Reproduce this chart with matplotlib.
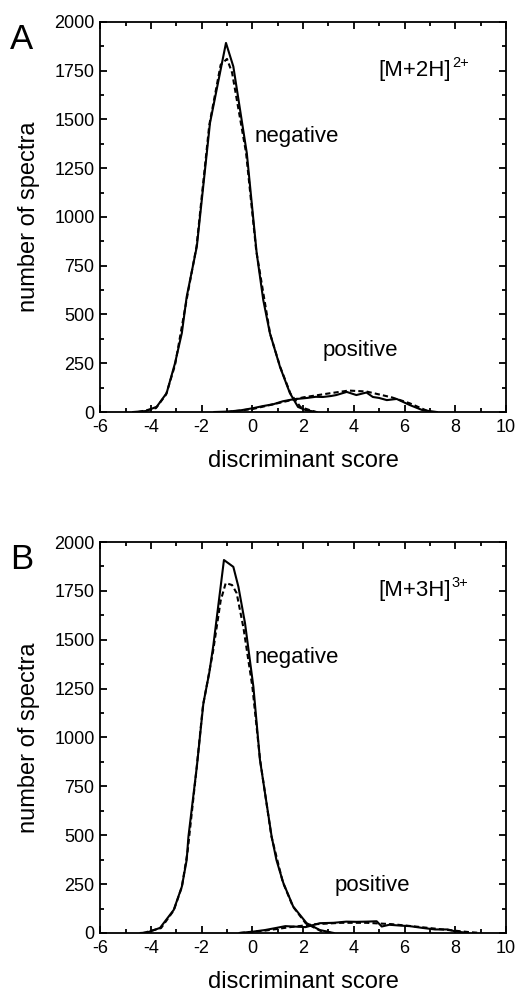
import matplotlib
matplotlib.use("Agg")
import matplotlib.pyplot as plt
from matplotlib.ticker import MultipleLocator

plt.rcParams['font.family'] = ['Liberation Sans', 'DejaVu Sans']
plt.rcParams['axes.unicode_minus'] = False

# panel A: [M+2H]2+
a_neg_x = [-4.7, -4.2, -3.77, -3.38, -3.05, -2.78, -2.59, -2.19, -1.67, -1.04, -0.75, -0.22, 0.17, 0.43, 0.69, 1.09, 1.48, 1.8, 2.1, 2.53]
a_neg_y = [0, 5, 27, 97, 250, 405, 590, 848, 1482, 1892, 1771, 1328, 815, 574, 405, 231, 97, 26, 10, 0]
a_negfit_x = [-4.5, -3.8, -3.4, -3.05, -2.6, -2.2, -1.7, -1.25, -1.0, -0.8, -0.25, 0.15, 0.7, 1.1, 1.5, 1.9, 2.5]
a_negfit_y = [0, 20, 90, 240, 570, 850, 1470, 1780, 1810, 1740, 1330, 830, 400, 230, 95, 25, 0]
a_pos_x = [-1.5, -1.0, -0.49, 0.04, 0.4, 0.83, 1.2, 1.6, 2.15, 2.5, 2.78, 3.1, 3.31, 3.72, 4.1, 4.5, 4.75, 5.0, 5.3, 5.69, 6.2, 6.7, 7.27]
a_pos_y = [0, 2, 8, 20, 30, 40, 55, 65, 72, 78, 77, 82, 87, 103, 87, 100, 77, 72, 61, 67, 36, 10, 0]
a_posfit_x = [-1.0, 0.0, 1.0, 2.0, 3.0, 3.8, 4.5, 5.5, 6.2, 7.0]
a_posfit_y = [0, 15, 45, 75, 95, 110, 105, 75, 45, 0]

# panel B: [M+3H]3+
b_neg_x = [-4.4, -4.16, -3.64, -3.1, -2.78, -2.59, -2.52, -2.19, -1.93, -1.7, -1.54, -1.12, -0.75, -0.55, -0.29, 0.04, 0.3, 0.76, 0.95, 1.22, 1.61, 2.14, 2.66, 3.2]
b_neg_y = [0, 2, 26, 118, 237, 373, 493, 850, 1176, 1330, 1470, 1908, 1873, 1771, 1585, 1260, 885, 493, 373, 256, 135, 50, 15, 0]
b_negfit_x = [-4.3, -3.6, -3.1, -2.78, -2.55, -2.2, -1.95, -1.55, -1.25, -1.05, -0.8, -0.62, -0.35, 0.0, 0.3, 0.75, 1.2, 1.6, 2.1, 2.7, 3.2]
b_negfit_y = [0, 25, 115, 235, 420, 840, 1160, 1440, 1700, 1790, 1780, 1739, 1560, 1260, 890, 495, 260, 135, 50, 10, 0]
b_pos_x = [-0.5, 0.04, 0.5, 0.95, 1.3, 1.6, 2.1, 2.66, 3.2, 3.7, 4.1, 4.5, 4.9, 5.1, 5.4, 5.8, 6.2, 6.7, 7.2, 7.7, 8.0, 8.5]
b_pos_y = [0, 7, 15, 26, 35, 33, 30, 50, 52, 58, 57, 58, 60, 33, 42, 38, 35, 26, 18, 18, 8, 0]
b_posfit_x = [-0.5, 0.5, 1.5, 2.5, 3.5, 4.5, 5.5, 6.5, 7.5, 8.5, 9.0]
b_posfit_y = [0, 12, 30, 45, 52, 52, 45, 32, 18, 5, 0]

panels = [
    ("A", "[M+2H]", "2+", (a_neg_x, a_neg_y), (a_negfit_x, a_negfit_y),
     (a_pos_x, a_pos_y), (a_posfit_x, a_posfit_y), (2.75, 313)),
    ("B", "[M+3H]", "3+", (b_neg_x, b_neg_y), (b_negfit_x, b_negfit_y),
     (b_pos_x, b_pos_y), (b_posfit_x, b_posfit_y), (3.25, 245)),
]

fig = plt.figure(figsize=(5.19, 9.94), dpi=100)
boxes = [[0.193, 0.5855, 0.782, 0.3925], [0.193, 0.0614, 0.782, 0.3933]]

for box, (letter, ion, charge, neg, negfit, pos, posfit, pos_xy) in zip(boxes, panels):
    ax = fig.add_axes(box)
    ax.plot(neg[0], neg[1], color="black", lw=1.5)
    ax.plot(negfit[0], negfit[1], color="black", lw=1.5, linestyle=(0, (2.5, 1.5)))
    ax.plot(pos[0], pos[1], color="black", lw=1.5)
    ax.plot(posfit[0], posfit[1], color="black", lw=1.5, linestyle=(0, (2.5, 1.5)))

    ax.set_xlim(-6, 10)
    ax.set_ylim(0, 2000)
    ax.xaxis.set_major_locator(MultipleLocator(2))
    ax.xaxis.set_minor_locator(MultipleLocator(1))
    ax.yaxis.set_major_locator(MultipleLocator(250))
    ax.yaxis.set_minor_locator(MultipleLocator(125))
    ax.tick_params(which="both", direction="in", top=True, right=True, width=1.3)
    ax.tick_params(which="major", length=5, labelsize=13)
    ax.tick_params(axis="x", which="major", pad=5)
    ax.tick_params(axis="y", which="major", pad=4)
    ax.tick_params(which="minor", length=3)
    for sp in ax.spines.values():
        sp.set_linewidth(1.3)

    ax.set_xlabel("discriminant score", fontsize=17, labelpad=10)
    ax.set_ylabel("number of spectra", fontsize=17, labelpad=10)

    ax.text(0.1, 1410, "negative", fontsize=16, va="center", ha="left")
    ax.text(pos_xy[0], pos_xy[1], "positive", fontsize=16, va="center", ha="left")
    t = ax.text(4.95, 1750, ion, fontsize=16, va="center", ha="left")
    ax.annotate(charge, xy=(1.0, 0.55), xycoords=t, xytext=(1, 0),
                textcoords="offset points", fontsize=10.5, va="bottom", ha="left")

    fig.text(0.02, box[1] + box[3] - 0.001, letter, fontsize=25, va="top", ha="left")

fig.savefig("out.png", dpi=100)
